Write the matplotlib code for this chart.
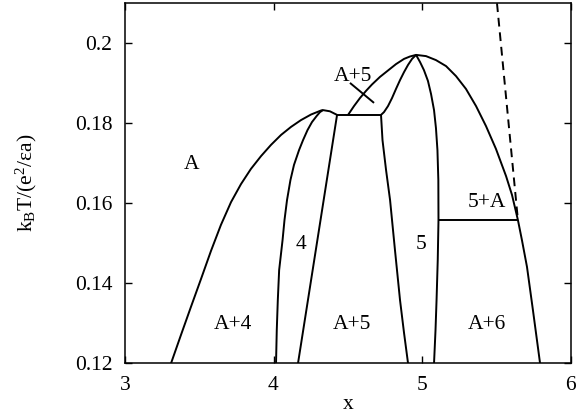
import matplotlib
matplotlib.use("Agg")
import matplotlib.pyplot as plt

# phase boundaries (x, k_B T)
a_dome_x = [3.310, 3.377, 3.444, 3.512, 3.579, 3.646, 3.714, 3.781, 3.848, 3.916, 3.983,
            4.051, 4.118, 4.185, 4.253, 4.320, 4.333, 4.380, 4.428]
a_dome_y = [0.1200, 0.1271, 0.1341, 0.1411, 0.1481, 0.1546, 0.1603, 0.1648, 0.1686, 0.1718, 0.1746,
            0.1771, 0.1791, 0.1808, 0.1822, 0.1832, 0.1833, 0.1830, 0.1821]

four_left_x = [4.017, 4.022, 4.029, 4.038, 4.061, 4.074, 4.091, 4.114, 4.138, 4.172, 4.199,
               4.229, 4.259, 4.290, 4.313, 4.333]
four_left_y = [0.1200, 0.1283, 0.1358, 0.1433, 0.1508, 0.1558, 0.1608, 0.1658, 0.1696, 0.1733, 0.1758,
               0.1783, 0.1803, 0.1818, 0.1828, 0.1833]

four_right_x = [4.165, 4.428]
four_right_y = [0.120, 0.1821]

flat_x = [4.428, 4.724]
flat_y = [0.1821, 0.1821]

a5_right_x = [4.724, 4.734, 4.758, 4.785, 4.818, 4.852, 4.879, 4.906]
a5_right_y = [0.1821, 0.1758, 0.1683, 0.1608, 0.1483, 0.1358, 0.1276, 0.1200]

s_curve_x = [4.724, 4.744, 4.771, 4.798, 4.825, 4.852, 4.879, 4.906, 4.933, 4.960]
s_curve_y = [0.1821, 0.1828, 0.1843, 0.1863, 0.1886, 0.1908, 0.1928, 0.1946, 0.1961, 0.1971]

five_right_x = [4.960, 4.987, 5.013, 5.040, 5.061, 5.081, 5.094, 5.104, 5.110, 5.111,
                5.106, 5.098, 5.091, 5.081]
five_right_y = [0.1971, 0.1953, 0.1933, 0.1906, 0.1873, 0.1833, 0.1788, 0.1733, 0.1658, 0.1558,
                0.1458, 0.1358, 0.1283, 0.1200]

big_dome_x = [4.502, 4.542, 4.582, 4.623, 4.663, 4.717, 4.771, 4.825, 4.879, 4.919, 4.960,
              5.027, 5.094, 5.162, 5.229, 5.296, 5.364, 5.431, 5.498, 5.566, 5.606, 5.646,
              5.673, 5.707, 5.747, 5.795]
big_dome_y = [0.1821, 0.1843, 0.1863, 0.1881, 0.1897, 0.1916, 0.1932, 0.1948, 0.1961, 0.1967, 0.1971,
              0.1968, 0.1958, 0.1943, 0.1918, 0.1886, 0.1843, 0.1793, 0.1736, 0.1668, 0.1621, 0.1558,
              0.1508, 0.1441, 0.1333, 0.1200]

tie_x = [5.111, 5.646]
tie_y = [0.1558, 0.1558]

dashed_x = [5.505, 5.646]
dashed_y = [0.21, 0.1558]

pointer_x = [4.515, 4.677]
pointer_y = [0.1901, 0.1851]

region_labels = ["A", "A+4", "4", "A+5", "5", "A+6", "5+A", "A+5"]
label_x = [3.451, 3.727, 4.185, 4.529, 4.993, 5.438, 5.438, 4.535]
label_y = [0.1696, 0.1296, 0.1496, 0.1296, 0.1496, 0.1296, 0.1603, 0.1918]

x_ticks = [3, 4, 5, 6]
y_ticks = [0.12, 0.14, 0.16, 0.18, 0.2]
y_ticklabels = ["0.12", "0.14", "0.16", "0.18", "0.2"]

plt.rcParams.update({
    "font.family": "Liberation Serif",
    "font.size": 15.5,
    "mathtext.fontset": "custom",
    "mathtext.rm": "Liberation Serif",
    "mathtext.it": "Liberation Serif:italic",
})

fig = plt.figure(figsize=(5.77, 4.17), dpi=100)
ax = fig.add_axes([125 / 577, 1 - 363.3 / 417, 445.5 / 577, 360 / 417])

lw = 1.4
for xs, ys in [(a_dome_x, a_dome_y), (four_left_x, four_left_y), (four_right_x, four_right_y),
               (flat_x, flat_y), (a5_right_x, a5_right_y), (s_curve_x, s_curve_y),
               (five_right_x, five_right_y), (big_dome_x, big_dome_y), (tie_x, tie_y),
               (pointer_x, pointer_y)]:
    ax.plot(xs, ys, color="black", lw=lw, solid_capstyle="butt", solid_joinstyle="round")
ax.plot(dashed_x, dashed_y, color="black", lw=lw, dashes=(4.5, 3))

for lab, lx, ly in zip(region_labels, label_x, label_y):
    ax.text(lx, ly, lab, ha="center", va="center")

ax.set_xlim(3, 6)
ax.set_ylim(0.12, 0.21)
ax.set_xticks(x_ticks)
ax.set_yticks(y_ticks)
ax.set_yticklabels(y_ticklabels)
ax.tick_params(direction="in", top=True, right=True, length=5, width=1, pad=9.5)
ax.tick_params(axis="y", pad=9)
for sp in ax.spines.values():
    sp.set_linewidth(1.1)

ax.set_xlabel("x", labelpad=0)
ax.set_ylabel(r"k$_\mathrm{B}$T/(e$^\mathrm{2}$/εa)", labelpad=26)

fig.savefig("out.png", dpi=100)
